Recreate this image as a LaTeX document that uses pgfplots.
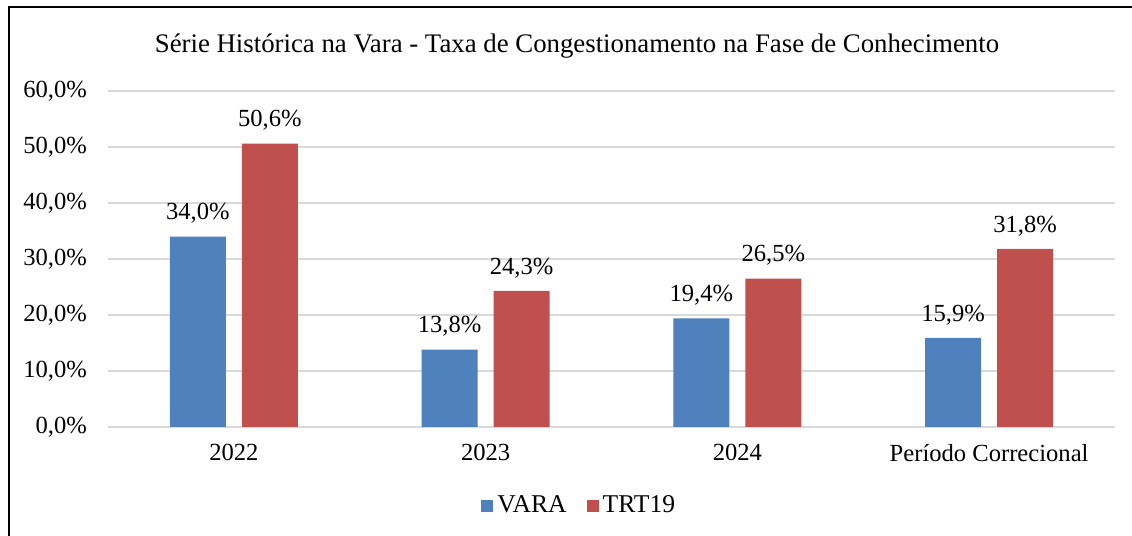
\documentclass[border=0pt]{standalone}
\usepackage{fontspec}
\setmainfont{Liberation Serif}
\usepackage{pgfplots}
\pgfplotsset{compat=1.18}
\definecolor{cvara}{HTML}{4F81BD}
\definecolor{ctrt}{HTML}{C0504D}
\definecolor{cgrid}{HTML}{D9D9D9}
\begin{document}
\begin{tikzpicture}
\useasboundingbox[fill=white] (0,0) rectangle (566pt,268pt);
\draw[black, line width=1.2pt] (4.5pt,0) -- (4.5pt,264.5pt) -- (566pt,264.5pt);
\node[font=\fontsize{13.4}{15}\selectfont] at (288.5pt,245pt) {Série Histórica na Vara - Taxa de Congestionamento na Fase de Conhecimento};
\begin{axis}[
  at={(54pt,54.5pt)}, anchor=south west,
  scale only axis, width=503.5pt, height=168pt,
  ymin=0, ymax=60, xmin=-0.5, xmax=3.5,
  axis x line*=bottom, axis y line*=left,
  x axis line style={cgrid, line width=1pt, -},
  y axis line style={draw=none},
  ytick={0,10,...,60},
  ymajorgrids, grid style={cgrid, line width=1pt},
  xtick=data, xticklabels={2022,2023,2024,Período Correcional},
  major tick length=0pt,
  ytick style={draw=none}, xtick style={draw=none},
  /pgf/number format/assume math mode=true,
  yticklabel={\pgfmathprintnumber[fixed,fixed zerofill,precision=1,use comma]{\tick}\%},
  yticklabel style={font=\fontsize{12.3}{14}\selectfont, anchor=east, xshift=-7pt},
  xticklabel style={font=\fontsize{12.3}{14}\selectfont, yshift=-5pt},
  ybar=8pt, bar width=28pt,
  nodes near coords={\pgfmathprintnumber[fixed,fixed zerofill,precision=1,use comma]{\pgfplotspointmeta}\%},
  every node near coord/.append style={font=\fontsize{12.3}{14}\selectfont, yshift=3pt},
  legend style={at={(axis description cs:0.469,0)}, anchor=center, yshift=-39.5pt, draw=none, legend columns=2, font=\fontsize{12.8}{14}\selectfont, /tikz/every even column/.append style={column sep=8pt}},
  legend image code/.code={\fill[#1] (0pt,-3pt) rectangle (6pt,3pt);},
  clip=false,
]
\addplot[fill=cvara, draw=none] coordinates {(0,34.0) (1,13.8) (2,19.4) (3,15.9)};
\addplot[fill=ctrt, draw=none] coordinates {(0,50.6) (1,24.3) (2,26.5) (3,31.8)};
\legend{VARA,TRT19}
\end{axis}
\end{tikzpicture}
\end{document}
